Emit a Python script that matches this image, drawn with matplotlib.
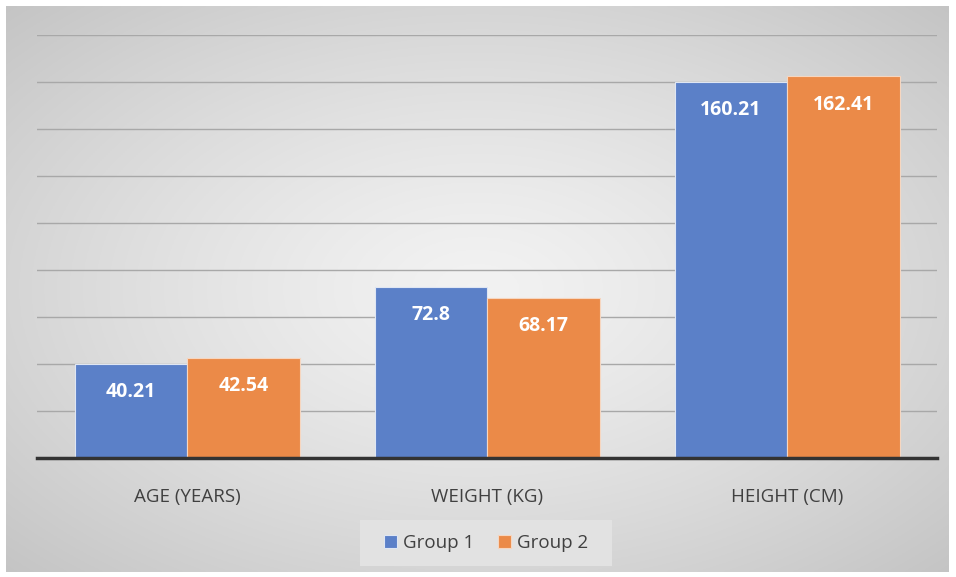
import numpy as np
import matplotlib.pyplot as plt
from matplotlib.patches import Rectangle

plt.rcParams['font.family'] = ['Open Sans', 'DejaVu Sans']

categories = ['AGE (YEARS)', 'WEIGHT (KG)', 'HEIGHT (CM)']
group1 = [40.21, 72.8, 160.21]
group2 = [42.54, 68.17, 162.41]
labels1 = ['40.21', '72.8', '160.21']
labels2 = ['42.54', '68.17', '162.41']

W, H = 956, 577
fig = plt.figure(figsize=(W / 100, H / 100), dpi=100)

# gray radial gradient background of the chart frame
bg = fig.add_axes([6 / W, 5 / H, 942 / W, 566 / H])
yy, xx = np.mgrid[-1:1:300j, -1:1:500j]
r = np.sqrt(xx ** 2 + yy ** 2) / np.sqrt(2)
shade = 0.95 - 0.18 * r ** 1.3
bg.imshow(np.dstack([shade] * 3), aspect='auto', extent=[0, 1, 0, 1])
bg.set_axis_off()

ax = fig.add_axes([37 / W, 119 / H, 900 / W, 423 / H])
ax.set_facecolor('none')
x = np.arange(len(categories))
w = 0.375
b1 = ax.bar(x - w / 2, group1, w, color='#5b80c8', edgecolor='#dfe6f3', linewidth=0.8, label='Group 1', zorder=3)
b2 = ax.bar(x + w / 2, group2, w, color='#eb8a48', edgecolor='#f6d6c0', linewidth=0.8, label='Group 2', zorder=3)

for bars, labs in ((b1, labels1), (b2, labels2)):
    for bar, lab in zip(bars, labs):
        ax.text(bar.get_x() + bar.get_width() / 2, bar.get_height() - 12, lab,
                ha='center', va='center', color='white', fontsize=14, fontweight='bold', zorder=4)

ax.set_xlim(-0.5, 2.5)
ax.set_ylim(0, 180)
ax.set_yticks(np.arange(20, 181, 20))
ax.yaxis.grid(True, color='#a8a8a8', linewidth=1.0, zorder=0)
ax.tick_params(left=False, labelleft=False, bottom=False)
ax.set_xticks(x)
ax.set_xticklabels(categories, fontsize=13.5, color='#404040')
ax.tick_params(axis='x', pad=18)
for s in ['left', 'right', 'top']:
    ax.spines[s].set_visible(False)
ax.spines['bottom'].set_color('#333333')
ax.spines['bottom'].set_linewidth(2.5)
ax.spines['bottom'].set_zorder(5)

# legend box
fig.patches.append(Rectangle((360 / W, 11 / H), 252 / W, 46 / H, transform=fig.transFigure,
                             facecolor='#e2e2e2', edgecolor='none', zorder=1))
leg = fig.legend(handles=[b1, b2], loc='center', bbox_to_anchor=(486 / W, 34 / H), ncol=2,
                 frameon=False, fontsize=13.5, handlelength=0.7, handleheight=0.7,
                 handletextpad=0.3, columnspacing=1.3, labelcolor='#404040')

fig.savefig('out.png', dpi=100)
